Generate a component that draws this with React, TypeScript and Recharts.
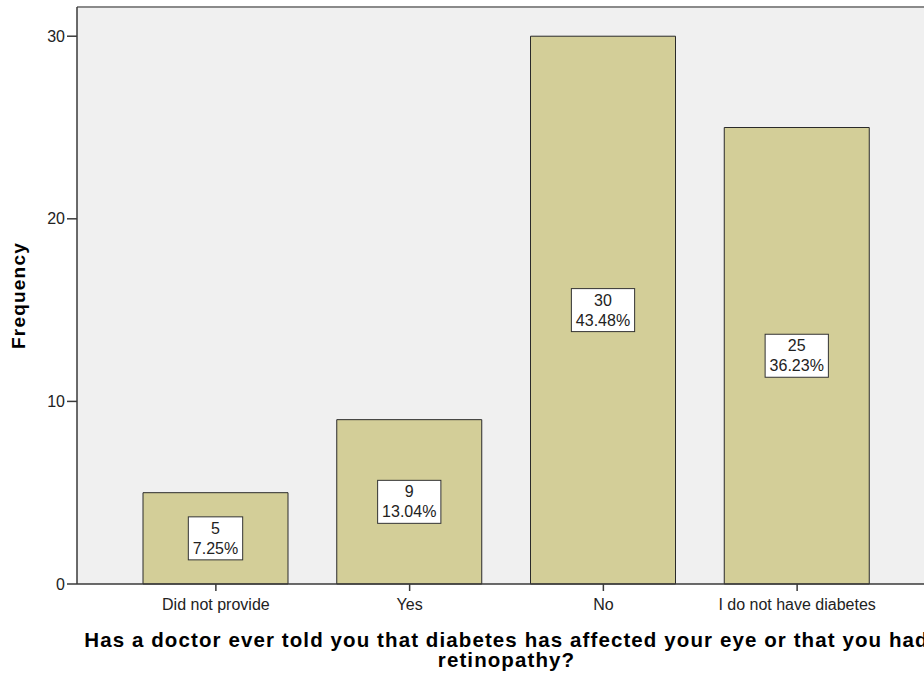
import React from 'react';
import { BarChart, Bar, XAxis, YAxis, CartesianGrid, LabelList, ReferenceLine } from 'recharts';

const categories = ['Did not provide', 'Yes', 'No', 'I do not have diabetes'];
const frequencies = [5, 9, 30, 25];
const percentLabels = ['7.25%', '13.04%', '43.48%', '36.23%'];
const yTicks = [0, 10, 20, 30];
const yMax = 31.6;

const data = categories.map((category, i) => ({
  category,
  frequency: frequencies[i],
  percent: percentLabels[i],
}));

const FONT = '"Liberation Sans", Arial, Helvetica, sans-serif';

// rough Arial advance widths at 16px, for sizing the white label boxes
const charWidth = (ch: string) => {
  if (ch === '.') return 4.45;
  if (ch === '%') return 14.2;
  return 8.9;
};
const textWidth = (s: string) => s.split('').reduce((w, ch) => w + charWidth(ch), 0);

const BoxLabel = (props: any) => {
  const { x, y, width, height, index, value } = props;
  const cx = Number(x) + Number(width) / 2;
  const cy = Number(y) + Number(height) / 2;
  const line1 = String(frequencies[index]);
  const line2 = String(value);
  const w = Math.max(textWidth(line1), textWidth(line2)) + 9;
  const h = 43;
  return (
    <g>
      <rect x={cx - w / 2} y={cy - h / 2} width={w} height={h} fill="#ffffff" stroke="#333333" strokeWidth={1} />
      <text x={cx} y={cy - 4.5} textAnchor="middle" fontSize={16} fontFamily={FONT} fill="#222">
        {line1}
      </text>
      <text x={cx} y={cy + 15.5} textAnchor="middle" fontSize={16} fontFamily={FONT} fill="#222">
        {line2}
      </text>
    </g>
  );
};

const XTitle = (props: any) => {
  const vb = props.viewBox || { x: 77, y: 584, width: 859, height: 95 };
  const cx = vb.x + vb.width / 2;
  return (
    <text textAnchor="middle" fontSize={20.5} fontWeight="bold" fontFamily={FONT} fill="#000" letterSpacing={1.1}>
      <tspan x={cx} y={vb.y + 63}>
        Has a doctor ever told you that diabetes has affected your eye or that you had
      </tspan>
      <tspan x={cx} y={vb.y + 83}>
        retinopathy?
      </tspan>
    </text>
  );
};

const YTitle = (props: any) => {
  const vb = props.viewBox || { x: 0, y: 7, width: 77, height: 577 };
  const x = vb.x + 25;
  const y = vb.y + vb.height / 2;
  return (
    <text
      x={x}
      y={y}
      transform={`rotate(-90, ${x}, ${y})`}
      textAnchor="middle"
      fontSize={19}
      fontWeight="bold"
      fontFamily={FONT}
      fill="#000"
      letterSpacing={1.2}
    >
      Frequency
    </text>
  );
};

export default function App() {
  return (
    <div
      style={{
        position: 'absolute',
        left: 0,
        top: 0,
        width: 924,
        height: 679,
        overflow: 'hidden',
        background: '#ffffff',
      }}
    >
      <BarChart width={940} height={679} data={data} margin={{ top: 7, right: 4, bottom: 0, left: 0 }}>
        <CartesianGrid horizontal={false} vertical={false} fill="#F0F0F0" />
        <XAxis
          dataKey="category"
          height={95}
          padding={{ left: 42, right: 42 }}
          tickSize={7}
          tickMargin={8}
          axisLine={{ stroke: '#3a3a3a', strokeWidth: 1.5 }}
          tickLine={{ stroke: '#3a3a3a', strokeWidth: 1.5 }}
          tick={{ fill: '#222', fontSize: 16, fontFamily: FONT }}
          interval={0}
          label={<XTitle />}
        />
        <YAxis
          width={77}
          domain={[0, yMax]}
          ticks={yTicks}
          tickSize={10}
          tickMargin={2}
          axisLine={{ stroke: '#3a3a3a', strokeWidth: 1.5 }}
          tickLine={{ stroke: '#3a3a3a', strokeWidth: 1.5 }}
          tick={{ fill: '#222', fontSize: 16, fontFamily: FONT }}
          label={<YTitle />}
        />
        <ReferenceLine y={yMax} stroke="#8a8a8a" strokeWidth={2} />
        <Bar
          dataKey="frequency"
          fill="#D3CE98"
          stroke="#2a2a2a"
          strokeWidth={1}
          barSize={145}
          isAnimationActive={false}
        >
          <LabelList dataKey="percent" content={<BoxLabel />} />
        </Bar>
      </BarChart>
    </div>
  );
}
